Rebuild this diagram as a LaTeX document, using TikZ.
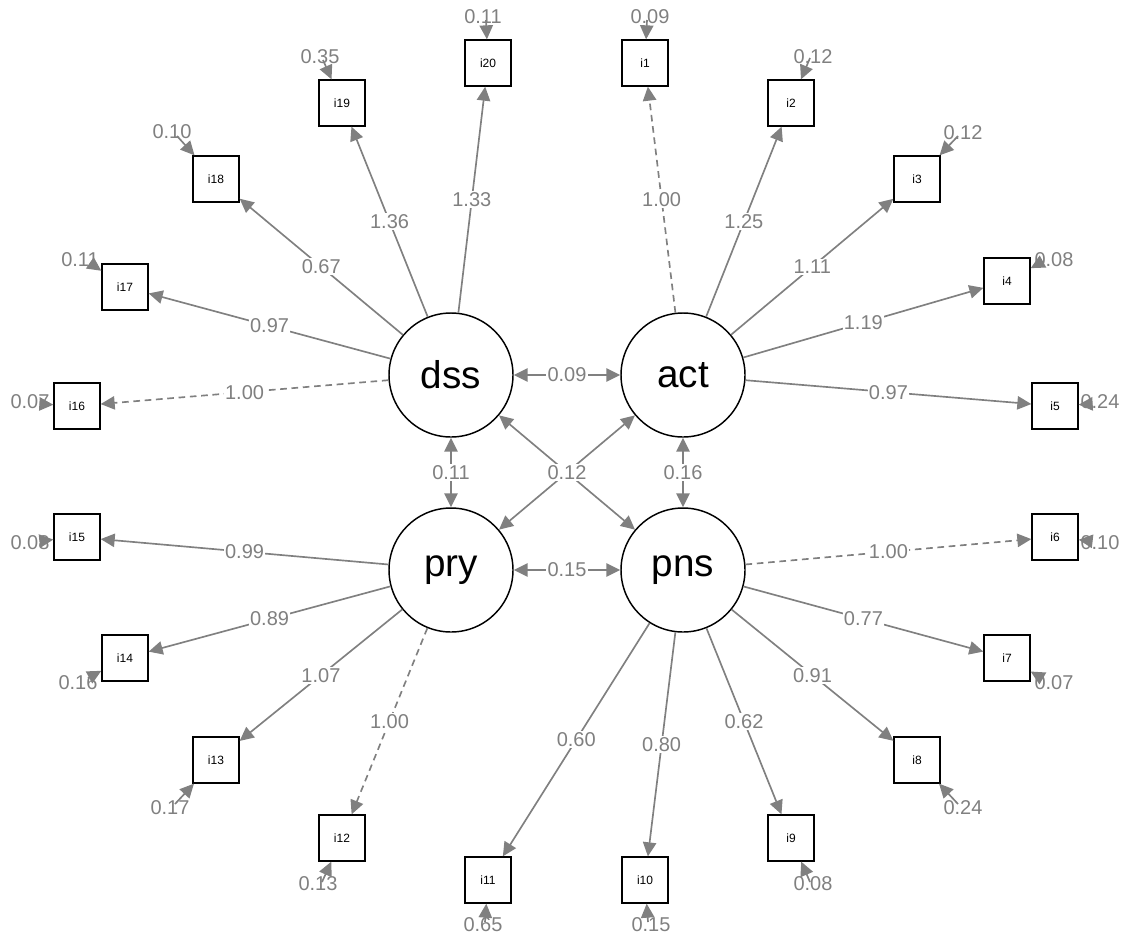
\documentclass[tikz,border=0pt]{standalone}
\usepackage{fontspec}
\setmainfont{Liberation Sans}
\usetikzlibrary{arrows.meta}

\tikzset{
  lat/.style={draw,circle,line width=1.1pt,minimum size=93pt,inner sep=0pt,font=\fontsize{29}{29}\selectfont},
  obs/.style={draw,rectangle,line width=1.5pt,minimum size=34pt,inner sep=0pt,font=\fontsize{9}{9}\selectfont},
  load/.style={draw=gray,line width=1.25pt,-{Triangle[length=10.5pt,width=10pt]}},
  fixed/.style={load,dashed,dash pattern=on 5pt off 3.5pt},
  cov/.style={draw=gray,line width=1.25pt,{Triangle[length=10.5pt,width=10pt]}-{Triangle[length=10.5pt,width=10pt]}},
  lbl/.style={fill=white,text=gray,inner sep=1pt,font=\fontsize{15}{15}\selectfont},
  res/.style={text=gray,inner sep=0pt,font=\fontsize{15}{15}\selectfont}
}

\begin{document}
\begin{tikzpicture}[x=0.75pt,y=-0.75pt]
\useasboundingbox (0,0) rectangle (1127,936);

% latent variables
\node[lat](dss) at (451,375){dss};
\node[lat](act) at (683,375){act};
\node[lat](pry) at (451,570){pry};
\node[lat](pns) at (683,570){pns};

% items
\node[obs](i1) at (645,63){i1};
\node[obs](i2) at (791,103){i2};
\node[obs](i3) at (917,179){i3};
\node[obs](i4) at (1007,281){i4};
\node[obs](i5) at (1055,406){i5};
\node[obs](i6) at (1055,537){i6};
\node[obs](i7) at (1007,658){i7};
\node[obs](i8) at (917,760){i8};
\node[obs](i9) at (791,838){i9};
\node[obs](i10) at (645,880){i10};
\node[obs](i11) at (488,880){i11};
\node[obs](i12) at (342,838){i12};
\node[obs](i13) at (216,760){i13};
\node[obs](i14) at (125,658){i14};
\node[obs](i15) at (77,537){i15};
\node[obs](i16) at (77,406){i16};
\node[obs](i17) at (125,287){i17};
\node[obs](i18) at (216,179){i18};
\node[obs](i19) at (342,103){i19};
\node[obs](i20) at (488,63){i20};

% loadings
\draw[fixed](act)--(i1) node[lbl,midway]{1.00};
\draw[load](act)--(i2) node[lbl,midway]{1.25};
\draw[load](act)--(i3) node[lbl,midway]{1.11};
\draw[load](act)--(i4) node[lbl,midway]{1.19};
\draw[load](act)--(i5) node[lbl,midway]{0.97};
\draw[fixed](pns)--(i6) node[lbl,midway]{1.00};
\draw[load](pns)--(i7) node[lbl,midway]{0.77};
\draw[load](pns)--(i8) node[lbl,midway]{0.91};
\draw[load](pns)--(i9) node[lbl,midway]{0.62};
\draw[load](pns)--(i10) node[lbl,midway]{0.80};
\draw[load](pns)--(i11) node[lbl,midway]{0.60};
\draw[fixed](pry)--(i12) node[lbl,midway]{1.00};
\draw[load](pry)--(i13) node[lbl,midway]{1.07};
\draw[load](pry)--(i14) node[lbl,midway]{0.89};
\draw[load](pry)--(i15) node[lbl,midway]{0.99};
\draw[fixed](dss)--(i16) node[lbl,midway]{1.00};
\draw[load](dss)--(i17) node[lbl,midway]{0.97};
\draw[load](dss)--(i18) node[lbl,midway]{0.67};
\draw[load](dss)--(i19) node[lbl,midway]{1.36};
\draw[load](dss)--(i20) node[lbl,midway]{1.33};

% covariances
\draw[cov](dss)--(act) node[lbl,midway]{0.09};
\draw[cov](dss)--(pry) node[lbl,midway]{0.11};
\draw[cov](act)--(pns) node[lbl,midway]{0.16};
\draw[cov](pry)--(pns) node[lbl,midway]{0.15};
\draw[cov](act)--(pry);
\draw[cov](dss)--(pns) node[lbl,midway]{0.12};

% residuals
\coordinate(r1) at (647,20);
\coordinate(r2) at (810,58);
\coordinate(r3) at (958,136);
\coordinate(r4) at (1042,262);
\coordinate(r5) at (1090,404);
\coordinate(r6) at (1090,541);
\coordinate(r7) at (1042,678);
\coordinate(r8) at (958,804);
\coordinate(r9) at (810,882);
\coordinate(r10) at (648,922);
\coordinate(r11) at (485,922);
\coordinate(r12) at (322,882);
\coordinate(r13) at (175,804);
\coordinate(r14) at (88,678);
\coordinate(r15) at (40,541);
\coordinate(r16) at (40,404);
\coordinate(r17) at (90,263);
\coordinate(r18) at (177,136);
\coordinate(r19) at (323,60);
\coordinate(r20) at (486,20);

\draw[load](r1)--(i1); \draw[load](r2)--(i2); \draw[load](r3)--(i3);
\draw[load](r4)--(i4); \draw[load](r5)--(i5); \draw[load](r6)--(i6);
\draw[load](r7)--(i7); \draw[load](r8)--(i8); \draw[load](r9)--(i9);
\draw[load](r10)--(i10); \draw[load](r11)--(i11); \draw[load](r12)--(i12);
\draw[load](r13)--(i13); \draw[load](r14)--(i14); \draw[load](r15)--(i15);
\draw[load](r16)--(i16); \draw[load](r17)--(i17); \draw[load](r18)--(i18);
\draw[load](r19)--(i19); \draw[load](r20)--(i20);

\node[res] at (650,17){0.09};
\node[res] at (813,57){0.12};
\node[res] at (963,133){0.12};
\node[res] at (1054,260){0.08};
\node[res] at (1100,402){0.24};
\node[res] at (1100,543){0.10};
\node[res] at (1054,683){0.07};
\node[res] at (963,808){0.24};
\node[res] at (813,884){0.08};
\node[res] at (651,925){0.15};
\node[res] at (483,925){0.65};
\node[res] at (318,884){0.13};
\node[res] at (170,808){0.17};
\node[res] at (78,683){0.16};
\node[res] at (30,543){0.08};
\node[res] at (30,402){0.07};
\node[res] at (80,260){0.11};
\node[res] at (172,132){0.10};
\node[res] at (320,57){0.35};
\node[res] at (483,17){0.11};

\end{tikzpicture}
\end{document}
